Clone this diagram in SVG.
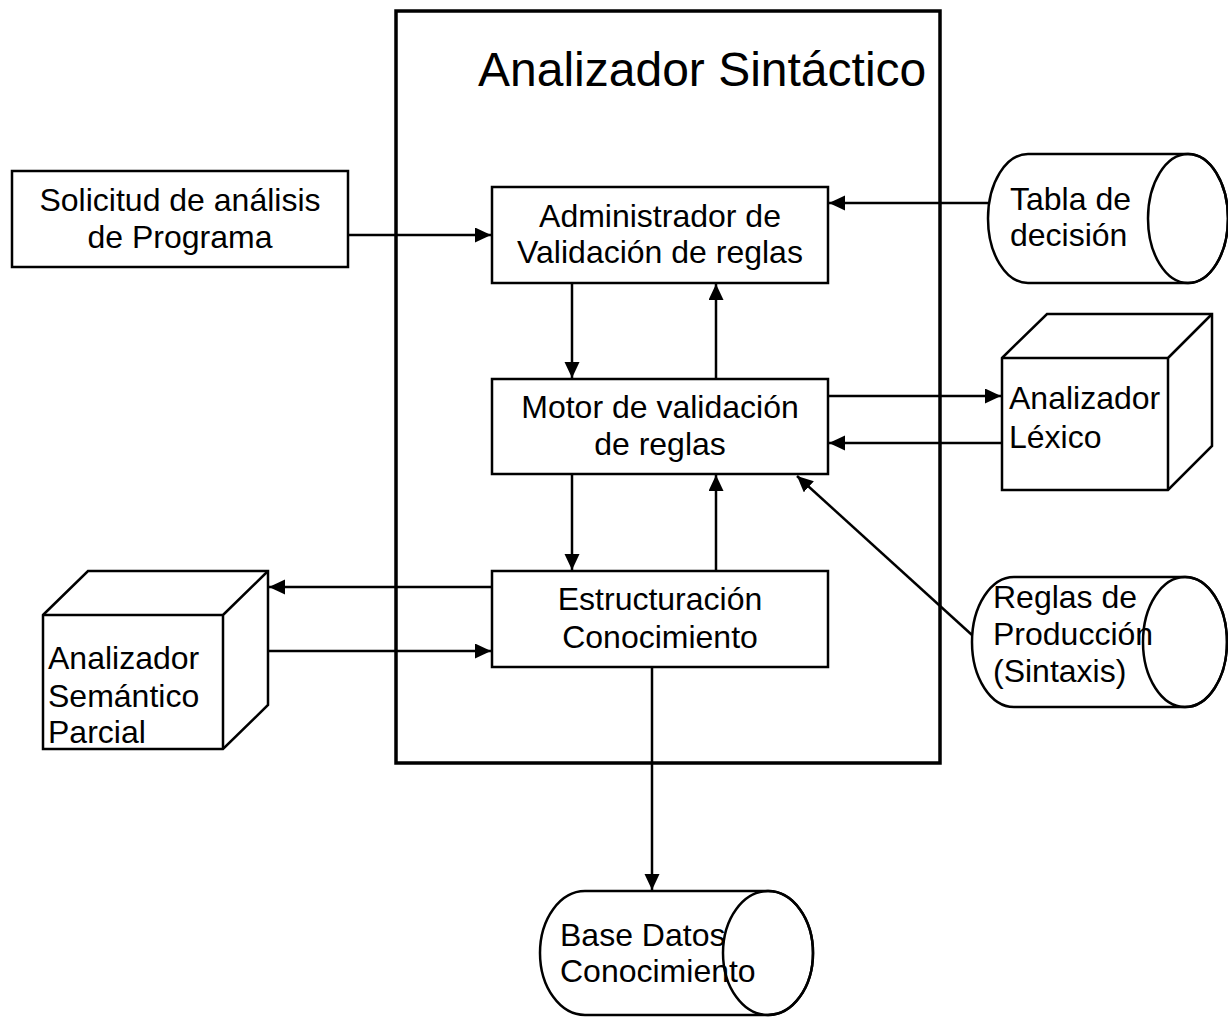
<svg xmlns="http://www.w3.org/2000/svg" width="1228" height="1017" viewBox="0 0 1228 1017">
<style>
.s{fill:#fff;stroke:#000;stroke-width:2.5}
.n{fill:none;stroke:#000;stroke-width:2.5}
.c{fill:none;stroke:#000;stroke-width:2.5}
.t{font-family:"Liberation Sans",Arial,sans-serif;font-size:32px;fill:#000}
.m{text-anchor:middle}
</style>
<defs>
<marker id="ah" markerUnits="userSpaceOnUse" markerWidth="17" markerHeight="16" refX="16" refY="7.5" orient="auto">
<path d="M0,0 L16,7.5 L0,15 Z" fill="#000"/>
</marker>
</defs>
<rect width="1228" height="1017" fill="#fff"/>
<g id="analizador-sintactico">
<rect x="396" y="11" width="544" height="752" fill="none" stroke="#000" stroke-width="3.5"/>
<text class="t" x="478" y="86" style="font-size:48px">Analizador Sintáctico</text>
</g>
<g id="solicitud">
<rect class="s" x="12" y="171" width="336" height="96"/>
<text class="t m" x="180" y="211">Solicitud de análisis</text>
<text class="t m" x="180" y="248">de Programa</text>
</g>
<g id="administrador">
<rect class="s" x="492" y="187" width="336" height="96"/>
<text class="t m" x="660" y="227">Administrador de</text>
<text class="t m" x="660" y="263">Validación de reglas</text>
</g>
<g id="motor">
<rect class="s" x="492" y="379" width="336" height="95"/>
<text class="t m" x="660" y="418">Motor de validación</text>
<text class="t m" x="660" y="455">de reglas</text>
</g>
<g id="estructuracion">
<rect class="s" x="492" y="571" width="336" height="96"/>
<text class="t m" x="660" y="610">Estructuración</text>
<text class="t m" x="660" y="648">Conocimiento</text>
</g>
<g id="tabla-decision">
<path class="s" d="M1028,154 L1188,154 A40,64.5 0 0 1 1188,283 L1028,283 A40,64.5 0 0 1 1028,154 Z"/>
<ellipse class="n" cx="1188" cy="218.5" rx="40" ry="64.5"/>
<text class="t" x="1010" y="210">Tabla de</text>
<text class="t" x="1010" y="246">decisión</text>
</g>
<g id="analizador-lexico">
<path class="s" d="M1002,358 L1047,314 L1212,314 L1212,446 L1168,490 L1002,490 Z"/>
<path class="n" d="M1002,358 L1168,358 L1168,490 M1168,358 L1212,314"/>
<text class="t" x="1009" y="409">Analizador</text>
<text class="t" x="1009" y="448">Léxico</text>
</g>
<g id="reglas-produccion">
<path class="s" d="M1014,577 L1185,577 A42,65 0 0 1 1185,707 L1014,707 A42,65 0 0 1 1014,577 Z"/>
<ellipse class="n" cx="1185" cy="642" rx="42" ry="65"/>
<text class="t" x="993" y="608">Reglas de</text>
<text class="t" x="993" y="645">Producción</text>
<text class="t" x="993" y="682">(Sintaxis)</text>
</g>
<g id="analizador-semantico">
<path class="s" d="M43,615 L88,571 L268,571 L268,705 L223,749 L43,749 Z"/>
<path class="n" d="M43,615 L223,615 L223,749 M223,615 L268,571"/>
<text class="t" x="48" y="669">Analizador</text>
<text class="t" x="48" y="707">Semántico</text>
<text class="t" x="48" y="743">Parcial</text>
</g>
<g id="base-datos">
<path class="s" d="M585,891 L768,891 A45,62 0 0 1 768,1015 L585,1015 A45,62 0 0 1 585,891 Z"/>
<ellipse class="n" cx="768" cy="953" rx="45" ry="62"/>
<text class="t" x="560" y="946">Base Datos</text>
<text class="t" x="560" y="982">Conocimiento</text>
</g>
<g id="connectors">
<line class="c" x1="348" y1="235" x2="491" y2="235" marker-end="url(#ah)"/>
<line class="c" x1="988" y1="203" x2="829" y2="203" marker-end="url(#ah)"/>
<line class="c" x1="572" y1="283" x2="572" y2="378" marker-end="url(#ah)"/>
<line class="c" x1="716" y1="379" x2="716" y2="284" marker-end="url(#ah)"/>
<line class="c" x1="828" y1="396" x2="1001" y2="396" marker-end="url(#ah)"/>
<line class="c" x1="1002" y1="443" x2="829" y2="443" marker-end="url(#ah)"/>
<line class="c" x1="572" y1="474" x2="572" y2="570" marker-end="url(#ah)"/>
<line class="c" x1="716" y1="571" x2="716" y2="475" marker-end="url(#ah)"/>
<line class="c" x1="972" y1="635" x2="797" y2="476" marker-end="url(#ah)"/>
<line class="c" x1="492" y1="587" x2="269" y2="587" marker-end="url(#ah)"/>
<line class="c" x1="268" y1="651" x2="491" y2="651" marker-end="url(#ah)"/>
<line class="c" x1="652" y1="667" x2="652" y2="890" marker-end="url(#ah)"/>
</g>
</svg>
